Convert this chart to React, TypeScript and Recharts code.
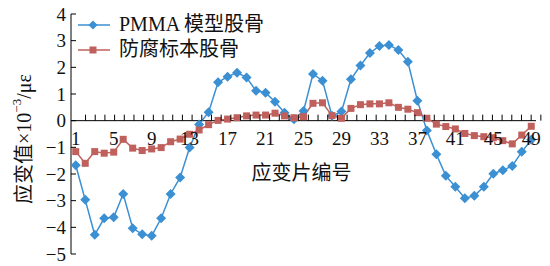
import React from "react";
import { Legend, Line, LineChart, ReferenceLine, XAxis, YAxis } from "recharts";

// strain gauge numbers
const gauges = [
  1, 2, 3, 4, 5, 6, 7, 8, 9, 10, 11, 12, 13, 14, 15, 16, 17, 18, 19, 20, 21, 22, 23, 24, 25,
  26, 27, 28, 29, 30, 31, 32, 33, 34, 35, 36, 37, 38, 39, 40, 41, 42, 43, 44, 45, 46, 47, 48, 49,
];

// PMMA 模型股骨
const pmma = [
  -1.67, -2.97, -4.28, -3.66, -3.62, -2.75, -4.03, -4.26, -4.32, -3.66, -2.75, -2.13, -1.01, -0.14, 0.32,
  1.44, 1.65, 1.8, 1.62, 1.12, 1.05, 0.71, 0.3, 0.05, 0.36, 1.75, 1.5, 0.18, 0.34, 1.55,
  2.07, 2.54, 2.8, 2.84, 2.65, 2.21, 0.75, -0.37, -1.26, -2.07,
  -2.48, -2.91, -2.82, -2.48, -1.99, -1.86, -1.7, -1.17, -0.72,
];

// 防腐标本股骨
const specimen = [
  -1.16, -1.6, -1.16, -1.22, -1.18, -0.7, -1.03, -1.12, -1.06, -1.01, -0.79, -0.69, -0.51, -0.35, -0.15,
  0.01, 0.06, 0.11, 0.18, 0.21, 0.21, 0.28, 0.18, 0.11, 0.15, 0.65, 0.67, 0.19, 0.09, 0.46,
  0.6, 0.63, 0.63, 0.67, 0.5, 0.43, 0.3, 0.09, -0.13, -0.22,
  -0.31, -0.48, -0.56, -0.6, -0.64, -0.75, -0.87, -0.54, -0.21,
];

const xTicks = [1, 5, 9, 13, 17, 21, 25, 29, 33, 37, 41, 45, 49];
const yTicks = [-5, -4, -3, -2, -1, 0, 1, 2, 3, 4];

const Y_MIN = -5;
const Y_MAX = 4;
const TOP = 14;
const PLOT_H = 240;
// y of the value 0, where the category axis crosses
const ZERO_Y = TOP + (PLOT_H * Y_MAX) / (Y_MAX - Y_MIN);
const BLUE = "#3b8fd3";
const RED = "#c0605c";
const FONT = "'Liberation Serif', 'Noto Sans CJK SC', serif";

const data = gauges.map((g, i) => ({ id: g, pmma: pmma[i], specimen: specimen[i] }));
// category boundaries, where Excel puts the small tick marks
const minorTicks = gauges.map((g) => g + 0.5);

const fmt = (v: number) => (v < 0 ? `\u2212${-v}` : `${v}`);

function Diamond({ cx, cy, r = 5, fill }: any) {
  if (cx == null || cy == null) return null;
  return <path d={`M${cx},${cy - r}L${cx + r},${cy}L${cx},${cy + r}L${cx - r},${cy}Z`} fill={fill} />;
}

function Square({ cx, cy, s = 7, fill }: any) {
  if (cx == null || cy == null) return null;
  return <rect x={cx - s / 2} y={cy - s / 2} width={s} height={s} fill={fill} />;
}

function YTick({ x, y, payload }: any) {
  return (
    <g>
      <line x1={x} x2={x + 5} y1={y} y2={y} stroke="#000" />
      <text x={x - 5} y={y} textAnchor="end" dominantBaseline="central" fontSize={19} fontFamily={FONT} fill="#111">
        {fmt(payload.value)}
      </text>
    </g>
  );
}

function XLabelTick({ x, payload }: any) {
  return (
    <text x={x} y={ZERO_Y + 24} textAnchor="middle" fontSize={19} fontFamily={FONT} fill="#111">
      {payload.value}
    </text>
  );
}

function MinorTick({ x }: any) {
  return <line x1={x} x2={x} y1={ZERO_Y} y2={ZERO_Y - 6} stroke="#000" />;
}

function XTitle({ viewBox }: any) {
  return (
    <text
      x={viewBox.x + viewBox.width / 2 - 2}
      y={ZERO_Y + 52}
      textAnchor="middle"
      dominantBaseline="central"
      fontSize={20}
      fontFamily={FONT}
      fill="#111"
    >
      应变片编号
    </text>
  );
}

function YTitle({ viewBox }: any) {
  const cx = 24;
  const cy = viewBox.y + viewBox.height / 2 + 5;
  return (
    <text
      x={cx}
      y={cy}
      transform={`rotate(-90 ${cx} ${cy})`}
      textAnchor="middle"
      dominantBaseline="central"
      fontSize={20}
      fontFamily={FONT}
      fill="#111"
    >
      应变值×10
      <tspan fontSize={13} dy={-8}>
        {"\u22123"}
      </tspan>
      <tspan dy={8}>/με</tspan>
    </text>
  );
}

function LegendBox({ payload }: any) {
  const items = payload && payload.length ? payload : [];
  return (
    <div style={{ fontFamily: FONT, fontSize: 20, color: "#111" }}>
      {items.map((item: any) => {
        const blue = item.dataKey === "pmma";
        return (
          <div key={item.value} style={{ display: "flex", alignItems: "center", height: 25, lineHeight: "25px" }}>
            <svg width={32} height={14} style={{ display: "block" }}>
              <line x1={0} x2={32} y1={7} y2={7} stroke={item.color} strokeWidth={1.5} />
              {blue ? <Diamond cx={15} cy={7} r={4.5} fill={BLUE} /> : <Square cx={15} cy={7} s={7} fill={RED} />}
            </svg>
            <span style={{ marginLeft: 9, whiteSpace: "nowrap" }}>{item.value}</span>
          </div>
        );
      })}
    </div>
  );
}

export default function App() {
  return (
    <div style={{ position: "fixed", left: 0, top: 0, background: "#fff" }}>
      <LineChart width={550} height={266} data={data} margin={{ top: TOP, right: 14, bottom: 10, left: 0 }}>
        <XAxis
          type="number"
          dataKey="id"
          domain={[0.5, 49.5]}
          ticks={xTicks}
          interval={0}
          height={1}
          axisLine={false}
          tickLine={false}
          tickSize={0}
          tickMargin={0}
          tick={<XLabelTick />}
          label={<XTitle />}
        />
        <XAxis
          xAxisId="minor"
          type="number"
          domain={[0.5, 49.5]}
          ticks={minorTicks}
          interval={0}
          height={1}
          axisLine={false}
          tickLine={false}
          tickSize={0}
          tickMargin={0}
          tick={<MinorTick />}
          allowDataOverflow
        />
        <YAxis
          domain={[Y_MIN, Y_MAX]}
          ticks={yTicks}
          interval={0}
          width={71}
          axisLine={{ stroke: "#000" }}
          tickLine={false}
          tickSize={0}
          tickMargin={0}
          tick={<YTick />}
          label={<YTitle />}
        />
        <ReferenceLine y={0} stroke="#000" />
        <Legend
          layout="vertical"
          align="center"
          verticalAlign="middle"
          wrapperStyle={{ top: 12, left: 78, width: "auto" }}
          content={<LegendBox />}
        />
        <Line
          dataKey="pmma"
          name="PMMA 模型股骨"
          stroke={BLUE}
          strokeWidth={1.5}
          dot={<Diamond r={5} fill={BLUE} />}
          activeDot={false}
          isAnimationActive={false}
        />
        <Line
          dataKey="specimen"
          name="防腐标本股骨"
          stroke={RED}
          strokeWidth={1.5}
          dot={<Square s={7} fill={RED} />}
          activeDot={false}
          isAnimationActive={false}
        />
      </LineChart>
    </div>
  );
}
